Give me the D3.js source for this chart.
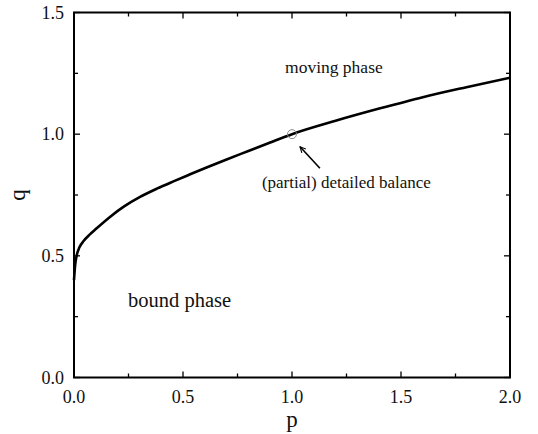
<!DOCTYPE html>
<html lang="en">
<head>
<meta charset="UTF-8">
<title>Phase diagram p-q</title>
<script src="https://d3js.org/d3.v7.min.js"></script>
<style>
    body { margin: 0; background: #fff; }
    svg { display: block; }
    .frame { fill: none; stroke: #000; stroke-width: 2px; }
    .tick-mark { stroke: #000; stroke-width: 1.3px; }
    .tick-label { font-family: "Liberation Serif", "DejaVu Serif", serif; font-size: 18px; fill: #111; }
    .axis-title { font-family: "Liberation Serif", "DejaVu Serif", serif; font-size: 23px; fill: #111; }
    .note { font-family: "Liberation Serif", "DejaVu Serif", serif; fill: #111; }
    .curve { fill: none; stroke: #000; stroke-width: 2.6px; }
</style>
</head>
<body>
<div id="chart"></div>
<script>
    // --- Data ---
    const pValues = [0, 0.005, 0.012, 0.025, 0.045, 0.073, 0.10, 0.165, 0.23, 0.303, 0.38, 0.456,
                     0.53, 0.608, 0.70, 0.80, 0.90, 1.00, 1.20, 1.40, 1.60, 1.80, 2.00];
    const qValues = [0.40, 0.46, 0.50, 0.535, 0.562, 0.588, 0.610, 0.660, 0.703, 0.742, 0.776, 0.806,
                     0.834, 0.863, 0.896, 0.931, 0.966, 1.00, 1.055, 1.105, 1.152, 1.193, 1.232];

    const xTickLabels = ["0.0", "0.5", "1.0", "1.5", "2.0"];
    const yTickLabels = ["0.0", "0.5", "1.0", "1.5"];
    const xMajor = [0, 0.5, 1.0, 1.5, 2.0];
    const yMajor = [0, 0.5, 1.0, 1.5];
    const xMinor = [0.25, 0.75, 1.25, 1.75];
    const yMinor = [0.25, 0.75, 1.25];

    const markerPoint = [1.0, 1.0];
    const arrowFrom = [1.128, 0.860];
    const arrowTo = [1.037, 0.948];

    const labels = [
        { text: "moving phase", p: 0.968, q: 1.251, size: 17.5 },
        { text: "bound phase", p: 0.248, q: 0.289, size: 20.5 },
        { text: "(partial) detailed balance", p: 0.862, q: 0.777, size: 17 }
    ];

    // --- Layout ---
    const W = 538, H = 434;
    const plotL = 74, plotR = 510, plotT = 12.5, plotB = 377.5;

    const svg = d3.select("#chart").append("svg").attr("width", W).attr("height", H);

    const x = d3.scaleLinear().domain([0, 2]).range([plotL, plotR]);
    const y = d3.scaleLinear().domain([0, 1.5]).range([plotB, plotT]);

    const majorLen = 6, minorLen = 4;

    // ticks on all four sides, pointing inward
    const tickG = svg.append("g");
    function xTicks(vals, len) {
        vals.forEach(v => {
            tickG.append("line").attr("class", "tick-mark")
                .attr("x1", x(v)).attr("x2", x(v)).attr("y1", plotB).attr("y2", plotB - len);
            tickG.append("line").attr("class", "tick-mark")
                .attr("x1", x(v)).attr("x2", x(v)).attr("y1", plotT).attr("y2", plotT + len);
        });
    }
    function yTicks(vals, len) {
        vals.forEach(v => {
            tickG.append("line").attr("class", "tick-mark")
                .attr("x1", plotL).attr("x2", plotL + len).attr("y1", y(v)).attr("y2", y(v));
            tickG.append("line").attr("class", "tick-mark")
                .attr("x1", plotR).attr("x2", plotR - len).attr("y1", y(v)).attr("y2", y(v));
        });
    }
    xTicks(xMajor, majorLen); xTicks(xMinor, minorLen);
    yTicks(yMajor, majorLen); yTicks(yMinor, minorLen);

    svg.append("rect").attr("class", "frame")
        .attr("x", plotL).attr("y", plotT).attr("width", plotR - plotL).attr("height", plotB - plotT);

    // tick labels
    svg.selectAll(".xl").data(xMajor).enter().append("text")
        .attr("class", "tick-label").attr("text-anchor", "middle")
        .attr("x", d => x(d)).attr("y", plotB + 25)
        .text((d, i) => xTickLabels[i]);
    svg.selectAll(".yl").data(yMajor).enter().append("text")
        .attr("class", "tick-label").attr("text-anchor", "end")
        .attr("x", plotL - 10).attr("y", d => y(d)).attr("dy", "0.35em")
        .text((d, i) => yTickLabels[i]);

    // axis titles
    svg.append("text").attr("class", "axis-title").attr("text-anchor", "middle")
        .attr("x", (plotL + plotR) / 2).attr("y", plotB + 49).text("p");
    svg.append("text").attr("class", "axis-title").attr("text-anchor", "middle")
        .attr("transform", `translate(25,${(plotT + plotB) / 2}) rotate(-90)`).text("q");

    // curve
    const pts = pValues.map((p, i) => [p, qValues[i]]);
    const line = d3.line().x(d => x(d[0])).y(d => y(d[1])).curve(d3.curveMonotoneX);
    svg.append("path").attr("class", "curve").datum(pts).attr("d", line);

    // marker circle at detailed balance point
    svg.append("circle").attr("cx", x(markerPoint[0])).attr("cy", y(markerPoint[1])).attr("r", 4.5)
        .attr("fill", "none").attr("stroke", "#888").attr("stroke-width", 1);

    // arrow
    svg.append("defs").append("marker").attr("id", "ah")
        .attr("viewBox", "0 0 10 10").attr("refX", 9).attr("refY", 5)
        .attr("markerWidth", 7).attr("markerHeight", 7).attr("orient", "auto")
        .attr("markerUnits", "userSpaceOnUse")
      .append("path").attr("d", "M1,1 L9,5 L1,9").attr("fill", "none").attr("stroke", "#000").attr("stroke-width", 1.6);
    svg.append("line")
        .attr("x1", x(arrowFrom[0])).attr("y1", y(arrowFrom[1]))
        .attr("x2", x(arrowTo[0])).attr("y2", y(arrowTo[1]))
        .attr("stroke", "#000").attr("stroke-width", 1.6).attr("marker-end", "url(#ah)");

    // text annotations
    labels.forEach(l => {
        svg.append("text").attr("class", "note")
            .attr("x", x(l.p)).attr("y", y(l.q))
            .style("font-size", l.size + "px").text(l.text);
    });
</script>
</body>
</html>
